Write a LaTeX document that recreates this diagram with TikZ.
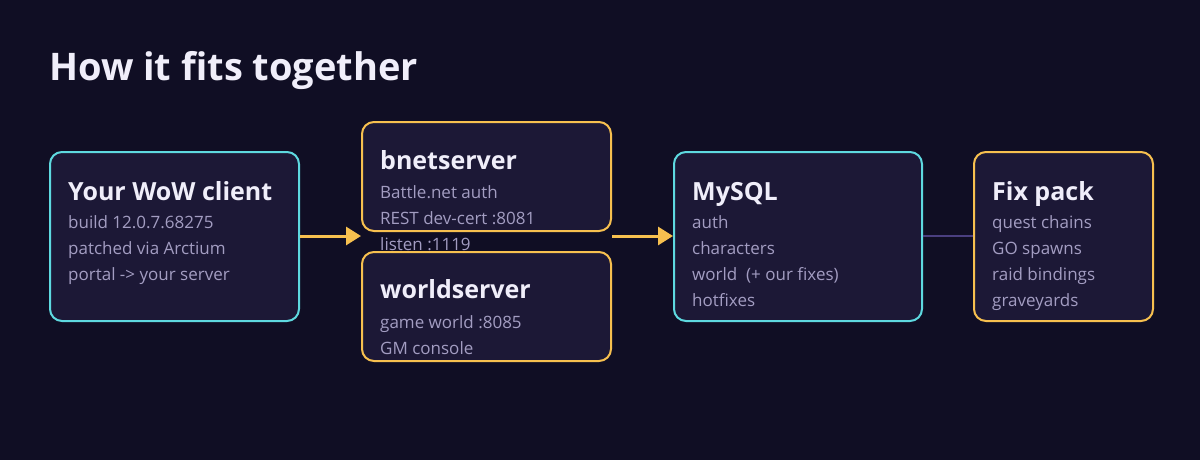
\documentclass[tikz,border=0pt]{standalone}
\usepackage{fontspec}
\setmainfont{Open Sans}
\usetikzlibrary{arrows.meta}
\begin{document}
\begin{tikzpicture}[x=1pt,y=-1pt]
  % colors
  \definecolor{kBack}{HTML}{100E24}
  \definecolor{kFill}{HTML}{1C1836}
  \definecolor{kCyan}{HTML}{5ED9E0}
  \definecolor{kGold}{HTML}{F7C04F}
  \definecolor{kLink}{HTML}{4A3F80}
  \definecolor{kHead}{HTML}{F0EEFA}
  \definecolor{kBody}{HTML}{A39DC2}
  \tikzset{
    box/.style={line width=2pt,fill=kFill,rounded corners=12pt,anchor=north west,inner sep=0pt},
    head/.style={anchor=base west,inner sep=0pt,text=kHead,font=\fontsize{25}{30}\selectfont\bfseries},
    body/.style={anchor=base west,inner sep=0pt,text=kBody,font=\fontsize{17}{26}\selectfont},
    flow/.style={draw,line width=3pt,color=kGold,-{Triangle[length=15pt,width=18pt]}}
  }
  % background
  \fill[kBack] (0,0) rectangle (1200,460);
  \useasboundingbox (0,0) rectangle (1200,460);
  % title
  \node[anchor=base west,inner sep=0pt,text=kHead,font=\fontsize{38}{44}\selectfont\bfseries] (title) at (49,81) {How it fits together};
  % shapes
  \node[box,draw=kCyan,minimum width=249pt,minimum height=169pt] (client) at (49,151) {};
  \node[box,draw=kGold,minimum width=249pt,minimum height=109pt] (bnet) at (361,121) {};
  \node[box,draw=kGold,minimum width=249pt,minimum height=109pt] (world) at (361,251) {};
  \node[box,draw=kCyan,minimum width=248pt,minimum height=169pt] (mysql) at (673,151) {};
  \node[box,draw=kGold,minimum width=179pt,minimum height=169pt] (fix) at (973,151) {};
  % connectors
  \coordinate (hub) at (361,236);
  \draw[flow] (client.east |- hub) -- (hub);
  \draw[flow] (bnet.east |- hub) -- (mysql.west |- hub);
  \draw[draw,line width=2pt,color=kLink] (mysql.east |- hub) -- (fix.west |- hub);
  % texts
  \node[head] (clienthead) at (68,200) {Your WoW client};
  \node[body] (client1) at (68,228) {build 12.0.7.68275};
  \node[body] (client2) at (68,254) {patched via Arctium};
  \node[body] (client3) at (68,280) {portal -> your server};
  \node[head] (bnethead) at (380,169) {bnetserver};
  \node[body] (bnet1) at (380,198) {Battle.net auth};
  \node[body] (bnet2) at (380,224) {REST dev-cert :8081};
  \node[body] (bnet3) at (380,250) {listen :1119};
  \node[head] (worldhead) at (380,298) {worldserver};
  \node[body] (world1) at (380,328) {game world :8085};
  \node[body] (world2) at (380,354) {GM console};
  \node[head] (mysqlhead) at (692,200) {MySQL};
  \node[body] (mysql1) at (692,228) {auth};
  \node[body] (mysql2) at (692,254) {characters};
  \node[body] (mysql3) at (692,280) {world\ \ (+ our fixes)};
  \node[body] (mysql4) at (692,306) {hotfixes};
  \node[head] (fixhead) at (992,200) {Fix pack};
  \node[body] (fix1) at (992,228) {quest chains};
  \node[body] (fix2) at (992,254) {GO spawns};
  \node[body] (fix3) at (992,280) {raid bindings};
  \node[body] (fix4) at (992,306) {graveyards};
\end{tikzpicture}
\end{document}
